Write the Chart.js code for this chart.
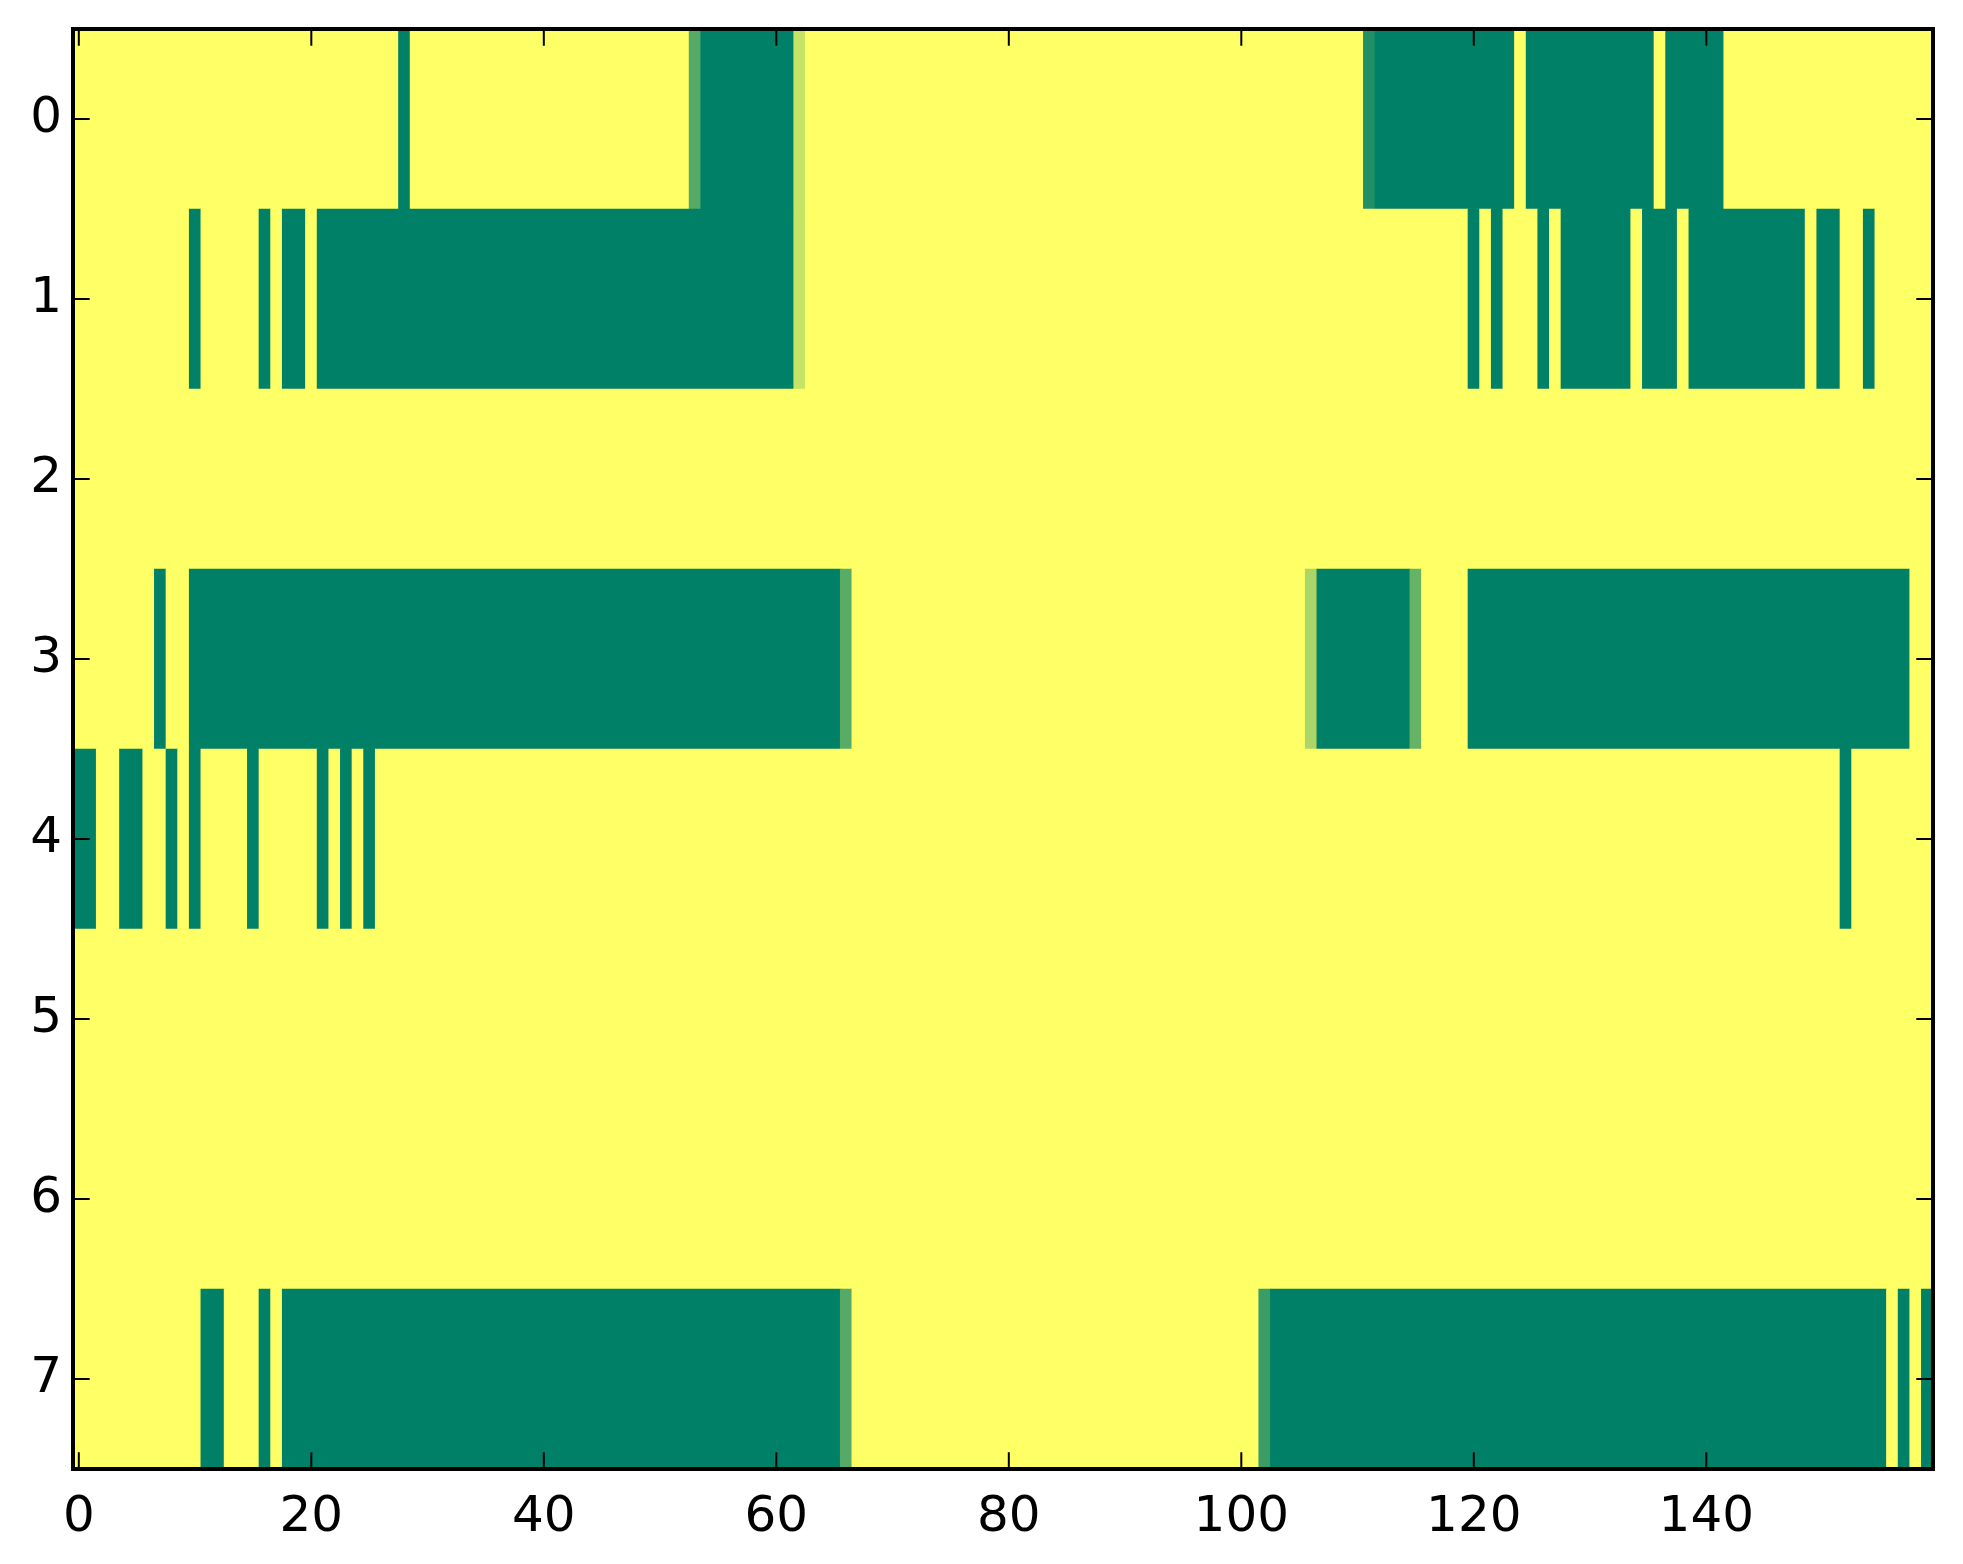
<!DOCTYPE html>
<html>
<head>
<meta charset="utf-8">
<title>Heatmap</title>
<script src="https://cdn.jsdelivr.net/npm/chart.js@4.4.1/dist/chart.umd.min.js"></script>
<style>
  html, body { margin: 0; padding: 0; background: #ffffff; }
  #wrap { width: 1963px; height: 1564px; }
</style>
</head>
<body>
<div id="wrap"><canvas id="heatmap" width="1963" height="1564"></canvas></div>
<script>
// --- 1. DATA: one array per row, 160 cells each (0 = green, 1 = yellow) ---
const row0 = [
  1,1,1,1,1,1,1,1,1,1, 1,1,1,1,1,1,1,1,1,1, 1,1,1,1,1,1,1,1,0,1, 1,1,1,1,1,1,1,1,1,1,
  1,1,1,1,1,1,1,1,1,1, 1,1,1,0.33,0,0,0,0,0,0, 0,0,0.78,1,1,1,1,1,1,1, 1,1,1,1,1,1,1,1,1,1,
  1,1,1,1,1,1,1,1,1,1, 1,1,1,1,1,1,1,1,1,1, 1,1,1,1,1,1,1,1,1,1, 1,0.13,0,0,0,0,0,0,0,0,
  0,0,0,0,1,0,0,0,0,0, 0,0,0,0,0,0,1,0,0,0, 0,0,1,1,1,1,1,1,1,1, 1,1,1,1,1,1,1,1,1,1
];
const row1 = [
  1,1,1,1,1,1,1,1,1,1, 0,1,1,1,1,1,0,1,0,0, 1,0,0,0,0,0,0,0,0,0, 0,0,0,0,0,0,0,0,0,0,
  0,0,0,0,0,0,0,0,0,0, 0,0,0,0,0,0,0,0,0,0, 0,0,0.78,1,1,1,1,1,1,1, 1,1,1,1,1,1,1,1,1,1,
  1,1,1,1,1,1,1,1,1,1, 1,1,1,1,1,1,1,1,1,1, 1,1,1,1,1,1,1,1,1,1, 1,1,1,1,1,1,1,1,1,1,
  0,1,0,1,1,1,0,1,0,0, 0,0,0,0,1,0,0,0,1,0, 0,0,0,0,0,0,0,0,0,1, 0,0,1,1,0,1,1,1,1,1
];
const row2 = [
  1,1,1,1,1,1,1,1,1,1, 1,1,1,1,1,1,1,1,1,1, 1,1,1,1,1,1,1,1,1,1, 1,1,1,1,1,1,1,1,1,1,
  1,1,1,1,1,1,1,1,1,1, 1,1,1,1,1,1,1,1,1,1, 1,1,1,1,1,1,1,1,1,1, 1,1,1,1,1,1,1,1,1,1,
  1,1,1,1,1,1,1,1,1,1, 1,1,1,1,1,1,1,1,1,1, 1,1,1,1,1,1,1,1,1,1, 1,1,1,1,1,1,1,1,1,1,
  1,1,1,1,1,1,1,1,1,1, 1,1,1,1,1,1,1,1,1,1, 1,1,1,1,1,1,1,1,1,1, 1,1,1,1,1,1,1,1,1,1
];
const row3 = [
  1,1,1,1,1,1,1,0,1,1, 0,0,0,0,0,0,0,0,0,0, 0,0,0,0,0,0,0,0,0,0, 0,0,0,0,0,0,0,0,0,0,
  0,0,0,0,0,0,0,0,0,0, 0,0,0,0,0,0,0,0,0,0, 0,0,0,0,0,0,0.35,1,1,1, 1,1,1,1,1,1,1,1,1,1,
  1,1,1,1,1,1,1,1,1,1, 1,1,1,1,1,1,1,1,1,1, 1,1,1,1,1,1,0.67,0,0,0, 0,0,0,0,0,0.4,1,1,1,1,
  0,0,0,0,0,0,0,0,0,0, 0,0,0,0,0,0,0,0,0,0, 0,0,0,0,0,0,0,0,0,0, 0,0,0,0,0,0,0,0,1,1
];
const row4 = [
  0,0,1,1,0,0,1,1,0,1, 0,1,1,1,1,0,1,1,1,1, 1,0,1,0,1,0,1,1,1,1, 1,1,1,1,1,1,1,1,1,1,
  1,1,1,1,1,1,1,1,1,1, 1,1,1,1,1,1,1,1,1,1, 1,1,1,1,1,1,1,1,1,1, 1,1,1,1,1,1,1,1,1,1,
  1,1,1,1,1,1,1,1,1,1, 1,1,1,1,1,1,1,1,1,1, 1,1,1,1,1,1,1,1,1,1, 1,1,1,1,1,1,1,1,1,1,
  1,1,1,1,1,1,1,1,1,1, 1,1,1,1,1,1,1,1,1,1, 1,1,1,1,1,1,1,1,1,1, 1,1,0,1,1,1,1,1,1,1
];
const row5 = [
  1,1,1,1,1,1,1,1,1,1, 1,1,1,1,1,1,1,1,1,1, 1,1,1,1,1,1,1,1,1,1, 1,1,1,1,1,1,1,1,1,1,
  1,1,1,1,1,1,1,1,1,1, 1,1,1,1,1,1,1,1,1,1, 1,1,1,1,1,1,1,1,1,1, 1,1,1,1,1,1,1,1,1,1,
  1,1,1,1,1,1,1,1,1,1, 1,1,1,1,1,1,1,1,1,1, 1,1,1,1,1,1,1,1,1,1, 1,1,1,1,1,1,1,1,1,1,
  1,1,1,1,1,1,1,1,1,1, 1,1,1,1,1,1,1,1,1,1, 1,1,1,1,1,1,1,1,1,1, 1,1,1,1,1,1,1,1,1,1
];
const row6 = [
  1,1,1,1,1,1,1,1,1,1, 1,1,1,1,1,1,1,1,1,1, 1,1,1,1,1,1,1,1,1,1, 1,1,1,1,1,1,1,1,1,1,
  1,1,1,1,1,1,1,1,1,1, 1,1,1,1,1,1,1,1,1,1, 1,1,1,1,1,1,1,1,1,1, 1,1,1,1,1,1,1,1,1,1,
  1,1,1,1,1,1,1,1,1,1, 1,1,1,1,1,1,1,1,1,1, 1,1,1,1,1,1,1,1,1,1, 1,1,1,1,1,1,1,1,1,1,
  1,1,1,1,1,1,1,1,1,1, 1,1,1,1,1,1,1,1,1,1, 1,1,1,1,1,1,1,1,1,1, 1,1,1,1,1,1,1,1,1,1
];
const row7 = [
  1,1,1,1,1,1,1,1,1,1, 1,0,0,1,1,1,0,1,0,0, 0,0,0,0,0,0,0,0,0,0, 0,0,0,0,0,0,0,0,0,0,
  0,0,0,0,0,0,0,0,0,0, 0,0,0,0,0,0,0,0,0,0, 0,0,0,0,0,0,0.33,1,1,1, 1,1,1,1,1,1,1,1,1,1,
  1,1,1,1,1,1,1,1,1,1, 1,1,1,1,1,1,1,1,1,1, 1,1,0.23,0,0,0,0,0,0,0, 0,0,0,0,0,0,0,0,0,0,
  0,0,0,0,0,0,0,0,0,0, 0,0,0,0,0,0,0,0,0,0, 0,0,0,0,0,0,0,0,0,0, 0,0,0,0,0,0,1,0,1,0
];

const rowLabels = ['0', '1', '2', '3', '4', '5', '6', '7'];
const xTicks = [0, 20, 40, 60, 80, 100, 120, 140];

// --- 2. HELPERS ---
// matplotlib "summer" colormap: 0 -> #008066, 1 -> #ffff66
function summer(v) {
    const r = Math.round(255 * v);
    const g = Math.round(255 * (0.5 + v / 2));
    return `rgb(${r}, ${g}, 102)`;
}

// Join neighbouring cells with the same value into one floating bar
function rowToBars(values, label) {
    const bars = [];
    let start = 0;
    for (let i = 1; i <= values.length; i++) {
        if (i === values.length || values[i] !== values[start]) {
            bars.push({ x: [start - 0.5, i - 0.5], y: label, v: values[start] });
            start = i;
        }
    }
    return bars;
}

const rows = [row0, row1, row2, row3, row4, row5, row6, row7];
const cells = rows.flatMap((r, i) => rowToBars(r, rowLabels[i]));

// --- 3. FRAME: box and inward ticks on all four sides ---
const frame = {
    id: 'frame',
    afterDraw(chart) {
        const { ctx, chartArea: a, scales } = chart;
        const len = 16.7;
        ctx.save();
        ctx.strokeStyle = '#000';
        ctx.lineWidth = 2;
        ctx.beginPath();
        scales.x.ticks.forEach(t => {
            const px = scales.x.getPixelForValue(t.value);
            ctx.moveTo(px, a.bottom); ctx.lineTo(px, a.bottom - len);
            ctx.moveTo(px, a.top); ctx.lineTo(px, a.top + len);
        });
        scales.y.ticks.forEach(t => {
            const py = scales.y.getPixelForValue(t.value);
            ctx.moveTo(a.left, py); ctx.lineTo(a.left + len, py);
            ctx.moveTo(a.right, py); ctx.lineTo(a.right - len, py);
        });
        ctx.stroke();
        ctx.lineWidth = 4;
        ctx.strokeRect(a.left, a.top, a.right - a.left, a.bottom - a.top);
        ctx.restore();
    }
};

// --- 4. CHART ---
const tickFont = { family: 'DejaVu Sans', size: 50 };

new Chart(document.getElementById('heatmap').getContext('2d'), {
    type: 'bar',
    data: {
        labels: rowLabels,
        datasets: [{
            data: cells,
            backgroundColor: ctx => summer(ctx.raw.v),
            borderWidth: 0,
            barPercentage: 1,
            categoryPercentage: 1
        }]
    },
    options: {
        indexAxis: 'y',
        responsive: false,
        animation: false,
        devicePixelRatio: 1,
        layout: { padding: { top: 29, right: 30, left: 0, bottom: 0 } },
        plugins: {
            legend: { display: false },
            tooltip: { enabled: false },
            title: { display: false }
        },
        scales: {
            x: {
                type: 'linear',
                position: 'bottom',
                min: -0.5,
                max: 159.5,
                grid: { display: false, drawTicks: false },
                border: { display: false },
                ticks: { font: tickFont, color: '#000', padding: 19, maxRotation: 0, autoSkip: false },
                afterBuildTicks: scale => { scale.ticks = xTicks.map(v => ({ value: v })); },
                afterFit: scale => {
                    scale.height = 95;
                    scale.paddingLeft = 0;
                    scale.paddingRight = 0;
                }
            },
            y: {
                type: 'category',
                offset: true,
                grid: { display: false, drawTicks: false },
                border: { display: false },
                ticks: { font: tickFont, color: '#000', padding: 11 },
                afterFit: scale => {
                    scale.width = 73;
                    scale.paddingTop = 0;
                    scale.paddingBottom = 0;
                }
            }
        }
    },
    plugins: [frame]
});
</script>
</body>
</html>
